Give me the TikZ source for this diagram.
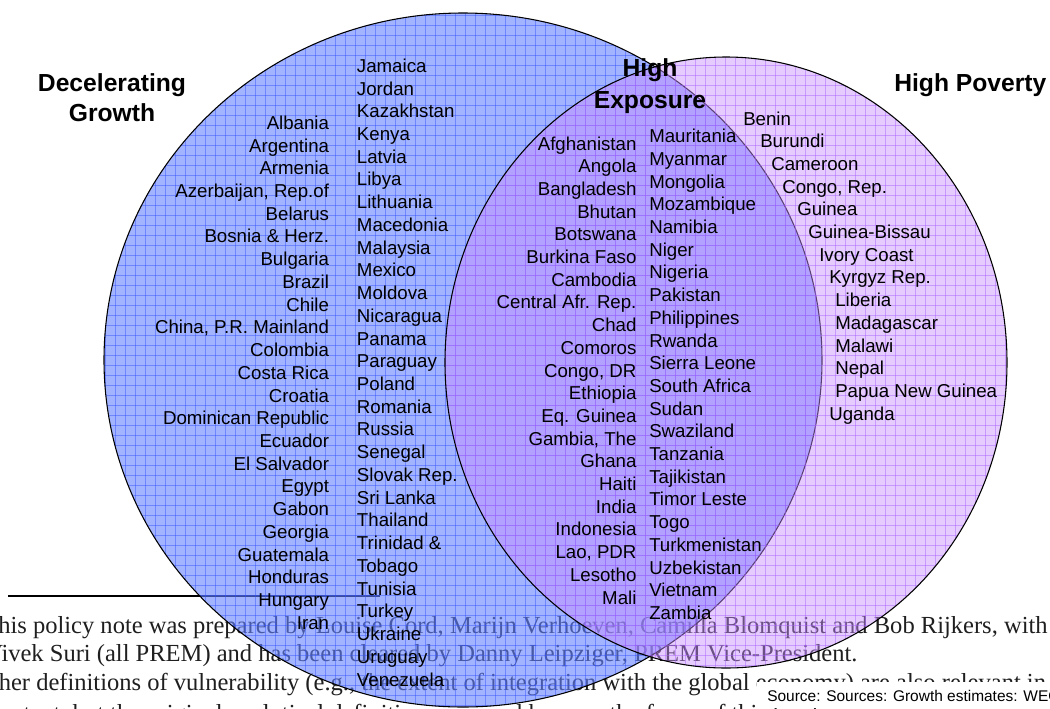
\documentclass[tikz,border=0pt]{standalone}
\usepackage{fontspec}
\setmainfont{Liberation Sans}
\newfontfamily\notefont{Liberation Serif}
\definecolor{bluefill}{RGB}{100,130,255}
\definecolor{bluegridc}{RGB}{50,80,255}
\definecolor{purpfill}{RGB}{200,140,255}
\definecolor{purpgridc}{RGB}{165,95,255}
\tikzset{
  country/.style={font=\fontsize{14}{17}\selectfont, inner sep=0pt},
  heading/.style={font=\fontsize{18.5}{22}\selectfont\bfseries, inner sep=0pt},
  note/.style={font=\notefont\fontsize{18.4}{22}\selectfont, inner sep=0pt, text=black!88},
  gridb/.style={draw=bluegridc, line width=0.6pt, opacity=0.45},
  gridp/.style={draw=purpgridc, line width=0.6pt, opacity=0.45},
  outline/.style={draw=black, line width=0.8pt}
}
\begin{document}
\begin{tikzpicture}[x=0.75pt,y=-0.75pt]
\useasboundingbox (0,0) rectangle (1050,708);
\clip (0,0) rectangle (1050,708);
\fill[white] (0,0) rectangle (1050,708);
% underlying footnote text
\draw[line width=1.4pt, black] (8,596) coordinate (r1) -- (380,596) coordinate (r2);
\node[note, anchor=base west] (fn1) at (-17,633) {This policy note was prepared by Louise Cord, Marijn Verhoeven, Camilla Blomquist and Bob Rijkers, with};
\node[note, anchor=base west] (fn2) at (-15,661.5) {Vivek Suri (all PREM) and has been cleared by Danny Leipziger, PREM Vice-President.};
\node[note, anchor=base west] (fn3) at (-26,690) {Other definitions of vulnerability (e.g., the extent of integration with the global economy) are also relevant in};
\node[note, anchor=base west] (fn4) at (-12,721) {context, but the original analytical definitions are used here, as the focus of this brief is};
% blue circle
\fill[bluefill, opacity=0.6] (463,360) ellipse [x radius=359, y radius=347];
\begin{scope}
  \clip (463,360) ellipse [x radius=359, y radius=347];
  \foreach \x in {105,115,...,825} \draw[gridb] (\x,0) -- (\x,710);
  \foreach \y in {15,25,...,705} \draw[gridb] (100,\y) -- (825,\y);
\end{scope}
\draw[outline] (463,360) ellipse [x radius=359, y radius=347];
% purple circle
\fill[purpfill, opacity=0.45] (726,362.5) ellipse [x radius=281, y radius=305.5];
\begin{scope}
  \clip (726,362.5) ellipse [x radius=281, y radius=305.5];
  \foreach \x in {445,455,...,1005} \draw[gridp] (\x,50) -- (\x,670);
  \foreach \y in {55,65,...,665} \draw[gridp] (440,\y) -- (1010,\y);
\end{scope}
\draw[outline] (726,362.5) ellipse [x radius=281, y radius=305.5];
% source box
\fill[white] (757,682) rectangle (1050,708);
\node[font=\fontsize{11.6}{14}\selectfont, inner sep=0pt, anchor=base west] (src) at (767,701.5) {Source: Sources: Growth estimates: WEO};
% headings
\node[heading, anchor=base] (hdg1) at (112,91.7) {Decelerating};
\node[heading, anchor=base] (hdg2) at (112,121.7) {Growth};
\node[heading, anchor=base] (hex1) at (650,76.7) {High};
\node[heading, anchor=base] (hex2) at (650,108) {Exposure};
\node[heading, anchor=base west] (hpv) at (894,91.7) {High Poverty};
% decelerating growth, first column
\foreach \c [count=\i from 0] in {Albania,Argentina,Armenia,{Azerbaijan, Rep.of},Belarus,{Bosnia \& Herz.},Bulgaria,Brazil,Chile,{China, P.R. Mainland},Colombia,Costa Rica,Croatia,Dominican Republic,Ecuador,El Salvador,Egypt,Gabon,Georgia,Guatemala,Honduras,Hungary,Iran}
  \node[country, anchor=base east] (dga\i) at (329.3,129.3+22.73*\i) {\c};
% decelerating growth, second column
\foreach \c [count=\i from 0] in {Jamaica,Jordan,Kazakhstan,Kenya,Latvia,Libya,Lithuania,Macedonia,Malaysia,Mexico,Moldova,Nicaragua,Panama,Paraguay,Poland,Romania,Russia,Senegal,Slovak Rep.,Sri Lanka,Thailand,Trinidad \&,Tobago,Tunisia,Turkey,Ukraine,Uruguay,Venezuela}
  \node[country, anchor=base west] (dgb\i) at (356.7,72.3+22.73*\i) {\c};
% high exposure, first column
\foreach \c [count=\i from 0] in {Afghanistan,Angola,Bangladesh,Bhutan,Botswana,Burkina Faso,Cambodia,Central Afr. Rep.,Chad,Comoros,{Congo, DR},Ethiopia,Eq. Guinea,{Gambia, The},Ghana,Haiti,India,Indonesia,{Lao, PDR},Lesotho,Mali}
  \node[country, anchor=base east] (hea\i) at (636.7,150+22.7*\i) {\c};
% high exposure, second column
\foreach \c [count=\i from 0] in {Mauritania,Myanmar,Mongolia,Mozambique,Namibia,Niger,Nigeria,Pakistan,Philippines,Rwanda,Sierra Leone,South Africa,Sudan,Swaziland,Tanzania,Tajikistan,Timor Leste,Togo,Turkmenistan,Uzbekistan,Vietnam,Zambia}
  \node[country, anchor=base west] (heb\i) at (649,142.7+22.7*\i) {\c};
% high poverty
\foreach \c/\xx [count=\i from 0] in {Benin/743,Burundi/760,Cameroon/771,{Congo, Rep.}/782,Guinea/797,Guinea-Bissau/808,Ivory Coast/819,Kyrgyz Rep./829,Liberia/835,Madagascar/835,Malawi/835,Nepal/835,Papua New Guinea/835,Uganda/829}
  \node[country, anchor=base west] (hp\i) at (\xx,125+22.7*\i) {\c};
\end{tikzpicture}
\end{document}
